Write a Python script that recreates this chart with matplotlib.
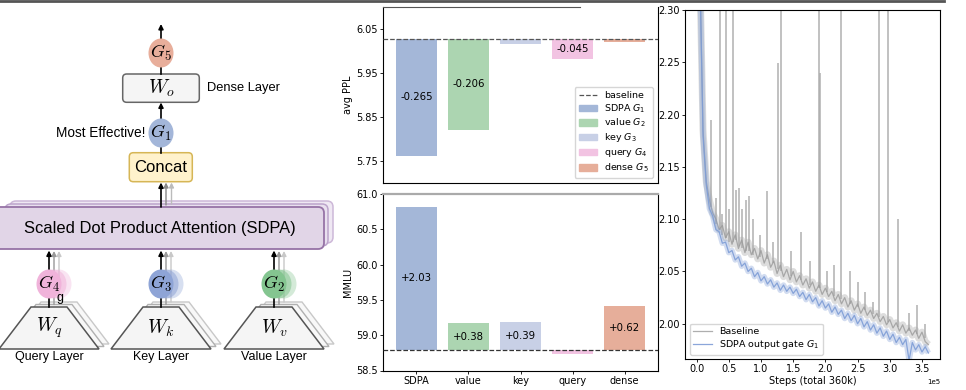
import numpy as np
import matplotlib
matplotlib.use('Agg')
import matplotlib.pyplot as plt
from matplotlib.patches import Ellipse, FancyBboxPatch, Polygon, Patch
from matplotlib.lines import Line2D

# bar charts: change vs. baseline for each gating position
categories = ['SDPA', 'value', 'key', 'query', 'dense']
legend_names = [r'SDPA $G_1$', r'value $G_2$', r'key $G_3$', r'query $G_4$', r'dense $G_5$']
bar_colors = ['#a4b7d8', '#acd5b1', '#c8d0e6', '#f2c3e2', '#e6ae9a']
ppl_baseline = 6.027
ppl_delta = [-0.265, -0.206, -0.010, -0.045, -0.007]
ppl_text = ['-0.265', '-0.206', '', '-0.045', '']
mmlu_baseline = 58.79
mmlu_delta = [2.03, 0.38, 0.39, -0.05, 0.62]
mmlu_text = ['+2.03', '+0.38', '+0.39', '', '+0.62']

# training loss, logged every 5k steps
loss_steps = np.arange(0, 365000, 5000)
loss_gate = [2.95, 2.34, 2.180, 2.133, 2.110, 2.103, 2.090, 2.088, 2.077, 2.078,
             2.068, 2.070, 2.061, 2.064, 2.055, 2.058, 2.050, 2.053, 2.045, 2.049,
             2.041, 2.045, 2.038, 2.042, 2.035, 2.039, 2.032, 2.037, 2.031, 2.035,
             2.029, 2.033, 2.026, 2.030, 2.023, 2.028, 2.021, 2.025, 2.017, 2.022,
             2.015, 2.019, 2.011, 2.016, 2.009, 2.013, 2.005, 2.010, 2.003, 2.008,
             2.000, 2.005, 1.997, 2.002, 1.994, 1.999, 1.991, 1.996, 1.988, 1.993,
             1.985, 1.990, 1.982, 1.987, 1.980, 1.985, 1.965, 1.982, 1.975, 1.980,
             1.973, 1.978, 1.972]
loss_base = [2.95, 2.34, 2.185, 2.136, 2.118, 2.106, 2.100, 2.090, 2.094, 2.082,
             2.088, 2.076, 2.085, 2.072, 2.080, 2.068, 2.078, 2.066, 2.072, 2.062,
             2.070, 2.058, 2.066, 2.054, 2.060, 2.048, 2.056, 2.045, 2.052, 2.042,
             2.050, 2.040, 2.046, 2.037, 2.043, 2.034, 2.040, 2.031, 2.037, 2.028,
             2.034, 2.026, 2.031, 2.022, 2.028, 2.019, 2.025, 2.016, 2.022, 2.013,
             2.019, 2.010, 2.016, 2.008, 2.013, 2.005, 2.010, 2.002, 2.007, 1.999,
             2.004, 1.996, 2.001, 1.993, 1.999, 1.991, 1.996, 1.989, 1.994, 1.986,
             1.992, 1.983, 1.980]
# loss spikes of the baseline run: step, curve level, peak
spike_steps = [23000, 30000, 35900, 40000, 45100, 50500, 55900, 61500, 65600, 71000,
               76000, 81500, 87000, 98000, 110000, 118000, 126700, 131800, 146000, 161500,
               176000, 189700, 191000, 203000, 213000, 223600, 238000, 251000, 262000, 274000,
               283100, 296900, 313000, 330000, 342000, 355000]
spike_floor = [2.112, 2.095, 2.090, 2.085, 2.082, 2.078, 2.078, 2.080, 2.074, 2.072,
               2.070, 2.070, 2.066, 2.064, 2.062, 2.058, 2.052, 2.050, 2.046, 2.042,
               2.037, 2.034, 2.034, 2.030, 2.027, 2.024, 2.019, 2.016, 2.013, 2.009,
               2.006, 2.002, 1.997, 1.993, 1.990, 1.986]
spike_peak = [2.195, 2.120, 2.45, 2.105, 2.45, 2.110, 2.45, 2.128, 2.130, 2.110,
              2.118, 2.122, 2.100, 2.085, 2.127, 2.078, 2.249, 2.45, 2.070, 2.088,
              2.060, 2.45, 2.240, 2.050, 2.056, 2.45, 2.050, 2.040, 2.030, 2.021,
              2.45, 2.45, 2.100, 2.010, 2.018, 2.000]

plt.rcParams['font.size'] = 7
plt.rcParams['xtick.major.size'] = 2.2
plt.rcParams['ytick.major.size'] = 2.2
plt.rcParams['xtick.major.pad'] = 1.5
plt.rcParams['ytick.major.pad'] = 1.5
plt.rcParams['xtick.major.width'] = 0.6
plt.rcParams['ytick.major.width'] = 0.6
plt.rcParams['axes.linewidth'] = 0.8

fig = plt.figure(figsize=(9.66, 3.9), dpi=100)

# ---------------- diagram (pixel coordinates) ----------------
axd = fig.add_axes([0, 0, 340 / 966, 1])
axd.set_xlim(0, 340)
axd.set_ylim(390, 0)
axd.axis('off')
sans = 'Liberation Sans'


def arrow(x, y0, y1, color='black', lw=1.2, z=2):
    axd.annotate('', xy=(x, y1), xytext=(x, y0), zorder=z,
                 arrowprops=dict(arrowstyle='-|>', color=color, lw=lw,
                                 shrinkA=0, shrinkB=0, mutation_scale=7))


def gate(x, y, color, label, stacked=False):
    if stacked:
        for dx, a in [(10, 0.35), (5, 0.55)]:
            axd.add_patch(Ellipse((x + dx, y), 25, 29, fc=color, ec='none', alpha=a, zorder=3))
    axd.add_patch(Ellipse((x, y), 25, 29, fc=color, ec='none', zorder=3))
    axd.text(x, y, label, ha='center', va='center', fontsize=13,
             math_fontfamily='cm', zorder=4)


def box(x0, y0, x1, y1, fc, ec, z=1, r=4, lw=1.1):
    axd.add_patch(FancyBboxPatch((x0, y0), x1 - x0, y1 - y0,
                                 boxstyle='round,pad=0,rounding_size=%g' % r,
                                 fc=fc, ec=ec, lw=lw, zorder=z))


# output path
arrow(161, 40, 24)
gate(161, 53, '#e8ae9b', r'$G_5$')
axd.plot([161, 161], [67, 74], color='black', lw=1.2, zorder=2)
box(122.7, 74, 199.3, 102.3, '#f5f5f5', '#666666')
axd.text(161, 88, r'$W_o$', ha='center', va='center', fontsize=14, math_fontfamily='cm', zorder=4)
axd.text(207, 88, 'Dense Layer', ha='left', va='center', fontsize=9.3, family=sans)
arrow(161, 119, 102.5)
gate(161, 133, '#a3b6d9', r'$G_1$')
axd.text(145, 133, 'Most Effective!', ha='right', va='center', fontsize=9.8, family=sans)
axd.plot([161, 161], [146, 153], color='black', lw=1.2, zorder=2)
box(129.3, 152.7, 192.3, 181.7, '#fff2cc', '#d6b656')
axd.text(161, 167, 'Concat', ha='center', va='center', fontsize=12, family=sans, zorder=4)
arrow(171.5, 204, 182.5, color='#bbbbbb', lw=1.0)
arrow(166, 205, 182.5, color='#888888', lw=1.0)
arrow(161, 207, 182.5)

# SDPA block (stacked heads)
box(10, 201, 333, 243, '#efe8f3', '#cdb8d8', z=1, r=6)
box(5, 204, 328, 246, '#e9e0ef', '#bca4cb', z=1, r=6)
box(-6, 207, 324, 249, '#e1d5e7', '#9673a6', z=1, r=6, lw=1.3)
axd.text(160, 228.5, 'Scaled Dot Product Attention (SDPA)', ha='center', va='center',
         fontsize=11.9, family=sans, zorder=4)

# input projections
for xc, w_label, g_label, g_color, name in [
        (49, r'$W_q$', r'$G_4$', '#f0b3da', 'Query Layer'),
        (161, r'$W_k$', r'$G_3$', '#8ea4d6', 'Key Layer'),
        (274, r'$W_v$', r'$G_2$', '#84c590', 'Value Layer')]:
    for dx, dy, ec in [(10, -5, '#c8c8c8'), (5, -2.5, '#b0b0b0')]:
        axd.add_patch(Polygon([(xc - 50 + dx, 349 + dy), (xc - 18 + dx, 307 + dy),
                               (xc + 18 + dx, 307 + dy), (xc + 50 + dx, 349 + dy)],
                              closed=True, fc='#f8f8f8', ec=ec, lw=1.0, zorder=1))
    axd.add_patch(Polygon([(xc - 50, 349), (xc - 18, 307), (xc + 18, 307), (xc + 50, 349)],
                          closed=True, fc='#f5f5f5', ec='#555555', lw=1.1, zorder=1.5))
    axd.text(xc, 328, w_label, ha='center', va='center', fontsize=14, math_fontfamily='cm', zorder=4)
    axd.text(xc, 357, name, ha='center', va='center', fontsize=9, family=sans)
    arrow(xc + 10, 302, 251, color='#c8c8c8', lw=1.0)
    arrow(xc + 5, 304.5, 251, color='#999999', lw=1.0)
    axd.plot([xc, xc], [298, 307], color='black', lw=1.2, zorder=2)
    arrow(xc, 270, 250.5)
    gate(xc, 284, g_color, g_label, stacked=True)
axd.text(60, 298.5, 'g', ha='center', va='center', fontsize=9, family=sans, zorder=4)

# ---------------- bar charts ----------------
x = np.arange(len(categories))
ax1 = fig.add_axes([383 / 966, 1 - 183 / 390, 275 / 966, 176 / 390])
ax2 = fig.add_axes([383 / 966, 1 - 370.5 / 390, 275 / 966, 176.5 / 390])

bars1 = ax1.bar(x, ppl_delta, bottom=ppl_baseline, width=0.8, color=bar_colors, zorder=2)
ax1.bar_label(bars1, labels=ppl_text, label_type='center', fontsize=7.3)
ax1.axhline(ppl_baseline, color='#555555', ls='--', lw=0.9, zorder=3)
ax1.set_ylim(5.70, 6.10)
ax1.set_yticks([5.75, 5.85, 5.95, 6.05])
ax1.set_xticks([])
ax1.set_ylabel('avg PPL', labelpad=2)
ax1.spines['top'].set_bounds(-0.64, 3.15)
ax1.spines['top'].set_color('#555555')
handles = [Line2D([0], [0], color='#555555', ls='--', lw=0.9)]
handles += [Patch(color=c) for c in bar_colors]
ax1.legend(handles, ['baseline'] + legend_names, loc='lower right', fontsize=6.8,
           handlelength=1.9, labelspacing=0.22, borderpad=0.45)

bars2 = ax2.bar(x, mmlu_delta, bottom=mmlu_baseline, width=0.8, color=bar_colors, zorder=2)
ax2.bar_label(bars2, labels=mmlu_text, label_type='center', fontsize=7.3)
ax2.axhline(mmlu_baseline, color='#333333', ls='--', lw=0.9, zorder=3)
ax2.set_ylim(58.5, 61.0)
ax2.set_xticks(x)
ax2.set_xticklabels(categories)
ax2.set_ylabel('MMLU', labelpad=2)
ax2.spines['top'].set_color('#aaaaaa')
ax2.spines['top'].set_linewidth(1.6)

# ---------------- loss curves ----------------
axr = fig.add_axes([685 / 966, 1 - 359.3 / 390, 255 / 966, 349.3 / 390])
# wide translucent stroke stands in for the step-to-step noise band
axr.plot(loss_steps, loss_base, color='#a0a0a0', lw=5, alpha=0.35, solid_capstyle='butt')
axr.vlines(spike_steps, spike_floor, spike_peak, color='#a8a8a8', lw=1.1, alpha=0.9)
axr.plot(loss_steps, loss_base, color='#9a9a9a', lw=0.9, alpha=0.8, label='Baseline')
axr.plot(loss_steps, loss_gate, color='#7e9dd6', lw=4, alpha=0.35, solid_capstyle='butt')
axr.plot(loss_steps, loss_gate, color='#7e9dd6', lw=0.9, alpha=0.9,
         label=r'SDPA output gate $G_1$')
axr.set_xlim(-18000, 378000)
axr.set_ylim(1.966, 2.30)
axr.ticklabel_format(axis='x', style='sci', scilimits=(0, 0))
axr.xaxis.get_offset_text().set_fontsize(5)
axr.set_xlabel('Steps (total 360k)', labelpad=1)
axr.legend(loc='lower left', fontsize=6.8, handlelength=2.0, labelspacing=0.25,
           borderpad=0.35)

# border line at the top of the image
fig.add_artist(Line2D([0, 0.977], [0.998, 0.998], color='#555555', lw=2,
                      transform=fig.transFigure))

fig.savefig('out.png', dpi=100)
